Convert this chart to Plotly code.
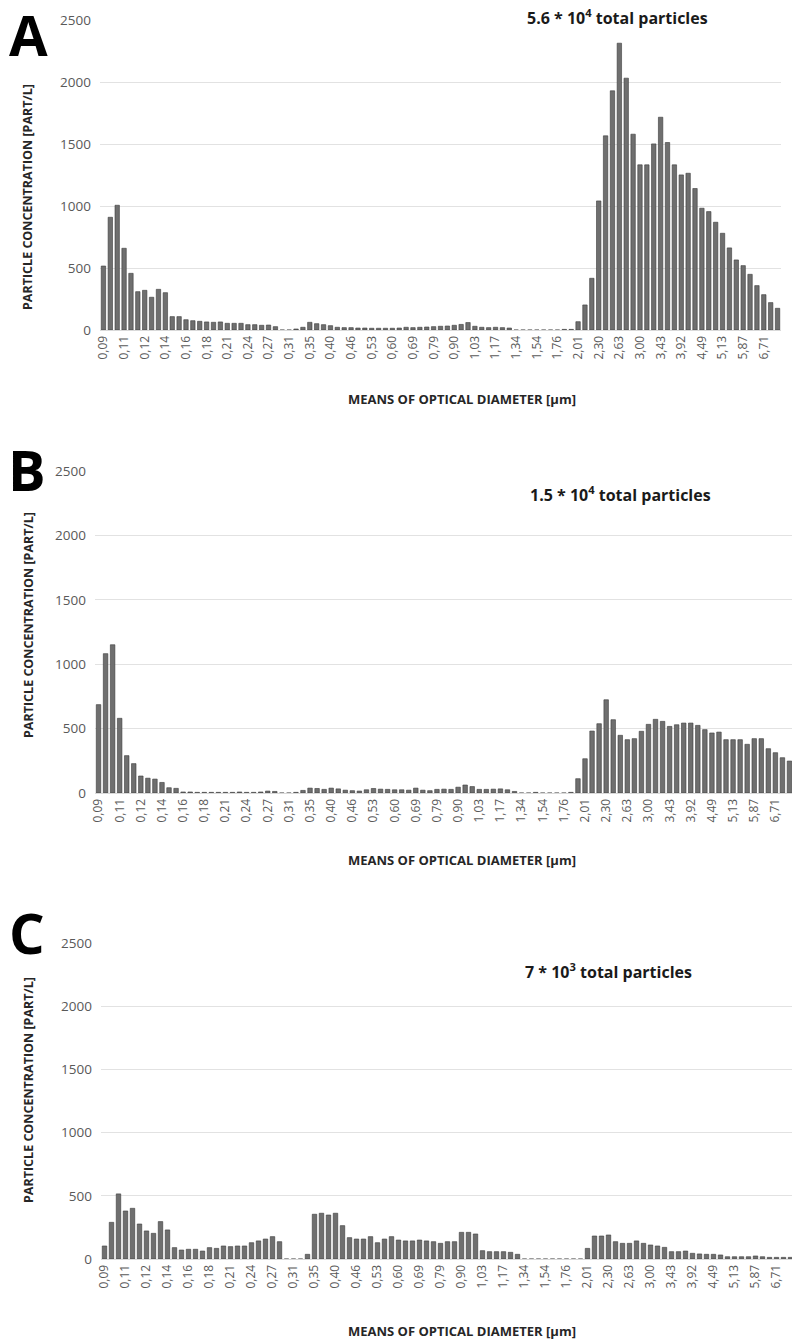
import plotly.graph_objects as go

W, H = 800, 1343
OFF = 8  # default page body margin

diam_labels = ["0,09", "0,11", "0,12", "0,14", "0,16", "0,18", "0,21", "0,24", "0,27", "0,31",
               "0,35", "0,40", "0,46", "0,53", "0,60", "0,69", "0,79", "0,90", "1,03", "1,17",
               "1,34", "1,54", "1,76", "2,01", "2,30", "2,63", "3,00", "3,43", "3,92", "4,49",
               "5,13", "5,87", "6,71"]

conc_a = [516, 909, 1006, 659, 457, 309, 320, 264, 328, 301, 108, 108, 83, 75, 70, 65, 62, 65,
          54, 54, 54, 43, 43, 38, 40, 27,
          0, 0, 8, 22, 62, 51, 43,
          35, 22, 19, 19, 16, 16, 14, 14, 14, 14, 16, 22, 19, 22, 24, 27, 30, 32, 38, 45, 60,
          30, 22, 19, 22, 19, 16,
          0, 0, 0, 0, 0, 0, 0,
          5, 5,
          67, 202, 417, 1041, 1566, 1929, 2313, 2031, 1579, 1332, 1332, 1501, 1716, 1512, 1332,
          1251, 1264, 1141, 982, 955, 869, 780, 662, 565, 519, 449, 358, 285, 221, 175]

conc_b = [686, 1082, 1151, 580, 290, 228, 132, 115, 108, 82, 41, 36,
          8, 8, 5, 5, 5, 5, 5, 5, 8, 5, 5, 8, 15, 12,
          0, 0,
          5, 20, 38, 35, 28, 38, 32, 22, 18, 15, 25, 35,
          30, 28, 25, 25, 22, 38, 22, 18, 28, 30, 28, 45, 62, 50, 28, 28, 30, 32, 25, 12,
          0, 0, 5, 0, 0, 0, 0, 5,
          111, 266, 481, 538, 724, 569, 448, 414, 422, 479, 533, 572, 556, 517, 530, 543, 543,
          525, 492, 466, 473, 414, 414, 414, 378, 422, 422, 344, 313, 274, 248]

conc_c = [103, 290, 515, 380, 401, 277, 222, 203, 296, 230, 90, 71, 77, 77, 63, 90, 84, 103,
          98, 103, 103, 129, 143, 158, 177, 137,
          0, 0, 0,
          37,
          354, 362, 348, 362, 264, 169, 158, 158, 177, 129,
          158, 177, 150, 143, 143, 150, 143, 137, 124, 137, 137, 211, 211, 198, 66, 58, 58, 58,
          53, 37,
          0, 0, 0, 0, 0, 0, 0, 0, 0,
          84, 182, 182, 190, 137, 124, 124, 143, 124, 111, 103, 92, 58, 58, 63, 45, 40, 37, 37,
          32, 18, 18, 18, 18, 24, 18, 13, 13, 13, 13]

panel_letters = ["A", "B", "C"]
totals = ["5.6 * 10<sup>4</sup> total particles",
          "1.5 * 10<sup>4</sup> total particles",
          "7 * 10<sup>3</sup> total particles"]

# screen-pixel boxes of the three plot areas: left, right, top(2500), bottom(0)
boxes = [(100, 781, 20, 330), (95, 793, 471, 793), (101, 794, 943, 1259)]
letter_pos = [(28, 34), (27, 469), (27, 932)]
total_pos = [(617, 17), (620, 494), (608, 971)]
xtitle_y = [399, 860, 1331]
ytitle_pos = [(27, 197), (28, 625), (28, 1090)]

def px(x, y):
    return (x - OFF) / W, 1 - (y - OFF) / H

FONT = "Open Sans"
idx = list(range(len(conc_a)))

fig = go.Figure()
layout = dict(width=W, height=H, margin=dict(l=0, r=0, t=0, b=0, autoexpand=False),
              paper_bgcolor="white", plot_bgcolor="white", showlegend=False,
              bargap=0.36, font=dict(family=FONT))
annots = []

for i, vals in enumerate([conc_a, conc_b, conc_c]):
    n = "" if i == 0 else str(i + 1)
    fig.add_trace(go.Bar(x=idx, y=vals, xaxis="x" + n, yaxis="y" + n,
                         marker=dict(color="#6f6f6f", line=dict(color="#3a3a3a", width=0.6))))
    l, r, t, b = boxes[i]
    x0, y0 = px(l, b)
    x1, y1 = px(r, t)
    layout["xaxis" + n] = dict(domain=[x0, x1], anchor="y" + n, range=[-0.5, 98.5],
                               tickvals=idx[::3], ticktext=diam_labels, tickangle=-90,
                               tickfont=dict(size=12, color="#595959", family=FONT),
                               showgrid=False, showline=True, linecolor="#d9d9d9",
                               linewidth=1, ticks="", zeroline=False, automargin=False)
    layout["yaxis" + n] = dict(domain=[y0, y1], anchor="x" + n, range=[0, 2500],
                               dtick=500, gridcolor="#e2e2e2", gridwidth=1, zeroline=False,
                               tickfont=dict(size=13.5, color="#595959", family=FONT),
                               ticks="", ticklabelstandoff=8, automargin=False)
    lx, ly = px(*letter_pos[i])
    annots.append(dict(x=lx, y=ly, xref="paper", yref="paper", text="<b>%s</b>" % panel_letters[i],
                       showarrow=False, font=dict(size=56, color="black", family=FONT),
                       xanchor="center", yanchor="middle"))
    tx, ty = px(*total_pos[i])
    annots.append(dict(x=tx, y=ty, xref="paper", yref="paper", text="<b>%s</b>" % totals[i],
                       showarrow=False, font=dict(size=16, color="#1a1a1a", family=FONT),
                       xanchor="center", yanchor="middle"))
    xx, xy = px(462, xtitle_y[i])
    annots.append(dict(x=xx, y=xy, xref="paper", yref="paper",
                       text="<b>MEANS OF OPTICAL DIAMETER [µm]</b>", showarrow=False,
                       font=dict(size=13, color="#262626", family=FONT),
                       xanchor="center", yanchor="middle"))
    yx, yy = px(*ytitle_pos[i])
    annots.append(dict(x=yx, y=yy, xref="paper", yref="paper",
                       text="<b>PARTICLE CONCENTRATION [PART/L]</b>", showarrow=False,
                       textangle=-90, font=dict(size=12.5, color="#262626", family=FONT),
                       xanchor="center", yanchor="middle"))

layout["annotations"] = annots
fig.update_layout(**layout)
fig.write_html("out.html")
